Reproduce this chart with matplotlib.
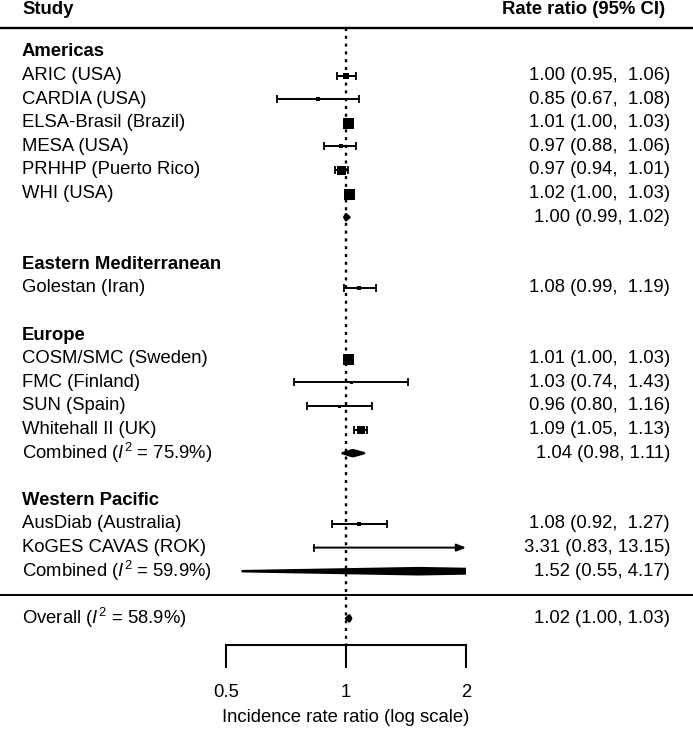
import numpy as np
import matplotlib
matplotlib.use("Agg")
import matplotlib.pyplot as plt
import matplotlib.transforms as mtransforms
from matplotlib.patches import Polygon, Rectangle

plt.rcParams['font.family'] = ['Liberation Sans', 'DejaVu Sans']
plt.rcParams['mathtext.fontset'] = 'custom'
plt.rcParams['mathtext.rm'] = 'Liberation Sans'
plt.rcParams['mathtext.it'] = 'Liberation Sans:italic'

# studies: region, label, estimate, lower, upper, weight (relative)
regions = ["Americas", "Eastern Mediterranean", "Europe", "Western Pacific"]

study_labels = ["ARIC (USA)", "CARDIA (USA)", "ELSA-Brasil (Brazil)", "MESA (USA)",
                "PRHHP (Puerto Rico)", "WHI (USA)",
                "Golestan (Iran)",
                "COSM/SMC (Sweden)", "FMC (Finland)", "SUN (Spain)", "Whitehall II (UK)",
                "AusDiab (Australia)", "KoGES CAVAS (ROK)"]
study_region = [0, 0, 0, 0, 0, 0, 1, 2, 2, 2, 2, 3, 3]
study_est = [1.00, 0.85, 1.01, 0.97, 0.97, 1.02, 1.08, 1.01, 1.03, 0.96, 1.09, 1.08, 3.31]
study_lo = [0.95, 0.67, 1.00, 0.88, 0.94, 1.00, 0.99, 1.00, 0.74, 0.80, 1.05, 0.92, 0.83]
study_hi = [1.06, 1.08, 1.03, 1.06, 1.01, 1.03, 1.19, 1.03, 1.43, 1.16, 1.13, 1.27, 13.15]
study_weight = [36, 12, 121, 25, 81, 121, 16, 121, 9, 9, 56, 16, 4]

# pooled estimates per region (None label = no text), then overall
pooled_labels = [None, None, "Combined ($\\it{I}^{2}$ = 75.9%)", "Combined ($\\it{I}^{2}$ = 59.9%)"]
pooled_est = [1.00, None, 1.04, 1.52]
pooled_lo = [0.99, None, 0.98, 0.55]
pooled_hi = [1.02, None, 1.11, 4.17]
overall_label = "Overall ($\\it{I}^{2}$ = 58.9%)"
overall = (1.02, 1.00, 1.03)

xticks = [0.5, 1, 2]

fig = plt.figure(figsize=(6.93, 7.30), dpi=100)
ax = fig.add_axes([0, 0, 1, 1])
ax.set_xscale('log', base=2)
# 1 -> 346 px, 120 px per doubling
ax.set_xlim(2 ** (-346 / 120), 2 ** ((693 - 346) / 120))
row_px = 23.6
y0 = 52
ax.set_ylim((730 - y0) / row_px, -y0 / row_px)
ax.axis('off')

fs = 13.3
xleft = 22 / 693
xright = 670 / 693
blend = mtransforms.blended_transform_factory(ax.transAxes, ax.transData)
clip = Rectangle((0.5, -5), 1.5, 40, transform=ax.transData)

def diamond(est, lo, hi, y, h=0.13):
    xs = [lo, est, hi, est]
    ys = [y, y - h, y, y + h]
    p = Polygon(list(zip(xs, ys)), closed=True, facecolor='black', edgecolor='black',
                lw=1.8, joinstyle='round')
    ax.add_patch(p)
    p.set_clip_path(clip)

def study(i, y):
    est, lo, hi = study_est[i], study_lo[i], study_hi[i]
    ax.text(xleft, y, study_labels[i], transform=blend, fontsize=fs, va='center', ha='left')
    ax.text(xright, y, f"{est:.2f} ({lo:.2f}, {hi:5.2f})", transform=blend,
            fontsize=fs, va='center', ha='right')
    lo_c, hi_c = max(lo, xticks[0]), min(hi, xticks[-1])
    if hi > xticks[-1]:
        ax.annotate('', xy=(hi_c, y), xytext=(lo_c, y),
                    arrowprops=dict(arrowstyle='-|>,head_length=0.55,head_width=0.22',
                                    color='black', lw=1.4, shrinkA=0, shrinkB=0))
        ax.plot([lo_c, lo_c], [y - 0.13, y + 0.13], color='black', lw=1.3)
    else:
        ax.errorbar([est], [y], xerr=[[est - lo], [hi - est]], fmt='none',
                    ecolor='black', elinewidth=1.4, capsize=3, capthick=1.3)
    if xticks[0] <= est <= xticks[-1]:
        side = np.sqrt(study_weight[i]) * 0.72
        ax.plot([est], [y], marker='s', color='black', markersize=side, mew=0)

row = 0
for r, name in enumerate(regions):
    ax.text(xleft, row, name, transform=blend, fontsize=fs, va='center', ha='left',
            fontweight='bold')
    row += 1
    for i in range(len(study_labels)):
        if study_region[i] == r:
            study(i, row)
            row += 1
    if pooled_est[r] is not None:
        if pooled_labels[r]:
            ax.text(xleft, row, pooled_labels[r], transform=blend, fontsize=fs,
                    va='center', ha='left')
        ax.text(xright, row, f"{pooled_est[r]:.2f} ({pooled_lo[r]:.2f}, {pooled_hi[r]:.2f})",
                transform=blend, fontsize=fs, va='center', ha='right')
        diamond(pooled_est[r], pooled_lo[r], pooled_hi[r], row)
        row += 1
    row += 1

sep_row = row - 1
over_row = sep_row + 1
ax.text(xleft, over_row, overall_label, transform=blend, fontsize=fs, va='center', ha='left')
ax.text(xright, over_row, f"{overall[0]:.2f} ({overall[1]:.2f}, {overall[2]:.2f})",
        transform=blend, fontsize=fs, va='center', ha='right')
diamond(overall[0], overall[1], overall[2], over_row)

# headers and rules
ax.text(xleft, -1.8, "Study", transform=blend, fontsize=fs, va='center', ha='left',
        fontweight='bold')
ax.text(665 / 693, -1.8, "Rate ratio (95% CI)", transform=blend, fontsize=fs,
        va='center', ha='right', fontweight='bold')
ax.plot([0, 1], [-1, -1], transform=blend, color='black', lw=1.7)
ax.plot([0, 1], [sep_row, sep_row], transform=blend, color='black', lw=1.4)

# axis
axis_row = over_row + 1.13
ax.plot([1, 1], [-1, axis_row], color='black', lw=1.7, ls=(0, (1.3, 2.0)))
ax.plot([xticks[0], xticks[-1]], [axis_row, axis_row], color='black', lw=1.5)
for t in xticks:
    ax.plot([t, t], [axis_row, axis_row + 0.93], color='black', lw=1.5)
    ax.text(t, axis_row + 2.03, f"{t:g}", fontsize=fs, ha='center', va='center')
ax.text(1, axis_row + 3.08, "Incidence rate ratio (log scale)", fontsize=fs,
        ha='center', va='center')

fig.savefig('out.png', dpi=100)
